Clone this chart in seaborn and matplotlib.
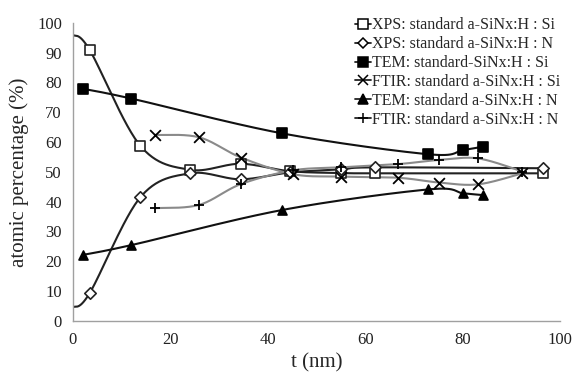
import numpy as np
import pandas as pd
import matplotlib
matplotlib.use("Agg")
import matplotlib.pyplot as plt
from matplotlib.lines import Line2D
import seaborn as sns

# ---- data ----
xps_t = [0, 3.4, 13.8, 24.0, 34.4, 44.6, 55.0, 62.0, 96.6]
xps_si = [96, 91.0, 58.8, 50.7, 52.7, 50.2, 49.6, 49.5, 49.5]
xps_n = [4.5, 9.2, 41.4, 49.5, 47.5, 49.8, 50.8, 51.5, 51.2]

tem_t = [2.0, 12.0, 43.0, 73.0, 80.1, 84.1]
tem_si = [77.9, 74.6, 62.9, 55.9, 57.3, 58.4]
tem_n = [22.1, 25.4, 37.2, 44.1, 42.8, 42.2]

ftir_t = [16.8, 25.9, 34.5, 45.2, 55.0, 66.8, 75.2, 83.2, 92.3]
ftir_si = [62.4, 61.6, 54.8, 49.2, 48.4, 48.0, 46.4, 45.8, 49.5]
ftir_n = [37.8, 38.9, 45.9, 50.5, 51.5, 52.6, 54.0, 54.5, 50.1]

labels = ["XPS: standard a-SiNx:H : Si",
          "XPS: standard a-SiNx:H : N",
          "TEM: standard-SiNx:H : Si",
          "FTIR: standard a-SiNx:H : Si",
          "TEM: standard a-SiNx:H : N",
          "FTIR: standard a-SiNx:H : N"]
x_ticks = [0, 20, 40, 60, 80, 100]
y_ticks = [0, 10, 20, 30, 40, 50, 60, 70, 80, 90, 100]

sns.set_style("white")
plt.rcParams["font.family"] = ["Liberation Serif", "DejaVu Serif"]

fig = plt.figure(figsize=(5.72, 3.76), dpi=100)
ax = fig.add_axes([0.1276, 0.147, 0.8514, 0.792])


def smooth(x, y, n=30):
    """Excel-style smoothed path (Bezier through the data points)."""
    x = np.asarray(x, float)
    y = np.asarray(y, float)
    P = np.column_stack([x, y])
    out = []
    for i in range(len(P) - 1):
        p0 = P[i - 1] if i > 0 else P[i]
        p1 = P[i]
        p2 = P[i + 1]
        p3 = P[i + 2] if i + 2 < len(P) else P[i + 1]
        c1 = p1 + (p2 - p0) / 6.0
        c2 = p2 - (p3 - p1) / 6.0
        s = np.linspace(0, 1, n)[:, None]
        seg = ((1 - s) ** 3) * p1 + 3 * ((1 - s) ** 2) * s * c1 + 3 * (1 - s) * s ** 2 * c2 + s ** 3 * p2
        out.append(seg if i == 0 else seg[1:])
    pts = np.vstack(out)
    return pts[:, 0], pts[:, 1]


series = [
    (xps_t, xps_si, "s", "white", "#222222", "#222222", 1),
    (xps_t, xps_n, "D", "white", "#222222", "#222222", 1),
    (tem_t, tem_si, "s", "black", "black", "#111111", 0),
    (ftir_t, ftir_si, "x", "black", "black", "#8a8a8a", 0),
    (tem_t, tem_n, "^", "black", "black", "#111111", 0),
    (ftir_t, ftir_n, "+", "black", "black", "#8a8a8a", 0),
]

handles = []
for (t, v, mk, fc, ec, lc, skip), lab in zip(series, labels):
    sx, sy = smooth(t, v)
    ax.plot(sx, sy, color=lc, lw=1.5, zorder=2)
    df = pd.DataFrame({"t": t[skip:], "v": v[skip:]})
    ms = 42 if mk in ("s", "^") else (34 if mk == "D" else 60)
    if mk in ("x", "+"):
        sns.scatterplot(data=df, x="t", y="v", marker=mk, color="black",
                        s=ms, linewidth=1.3, ax=ax, zorder=3, legend=False)
    else:
        sns.scatterplot(data=df, x="t", y="v", marker=mk, facecolor=fc,
                        edgecolor=ec, s=ms, linewidth=1.2, ax=ax, zorder=3, legend=False)
    handles.append(Line2D([0], [0], color="#222222", lw=1.3, marker=mk,
                          markerfacecolor=fc, markeredgecolor="black",
                          markersize=6.5 if mk != "D" else 5.5, markeredgewidth=1.1))

ax.set_xlim(0, 100)
ax.set_ylim(0, 100)
ax.set_xticks(x_ticks)
ax.set_yticks(y_ticks)
ax.tick_params(axis="both", length=0, labelsize=12, colors="#222222", pad=8)
for side in ("top", "right"):
    ax.spines[side].set_visible(False)
for side in ("left", "bottom"):
    ax.spines[side].set_color("#a0a0a0")
    ax.spines[side].set_linewidth(1.0)

ax.set_xlabel("t (nm)", fontsize=15, labelpad=4)
ax.set_ylabel("atomic percentage (%)", fontsize=15, labelpad=6)

leg = ax.legend(handles, labels, loc="upper right", bbox_to_anchor=(1.014, 1.04),
                frameon=False, fontsize=11.5, handlelength=1.0,
                handletextpad=0.1, labelspacing=0.18, borderaxespad=0.0)

fig.savefig("out.png", dpi=100)
